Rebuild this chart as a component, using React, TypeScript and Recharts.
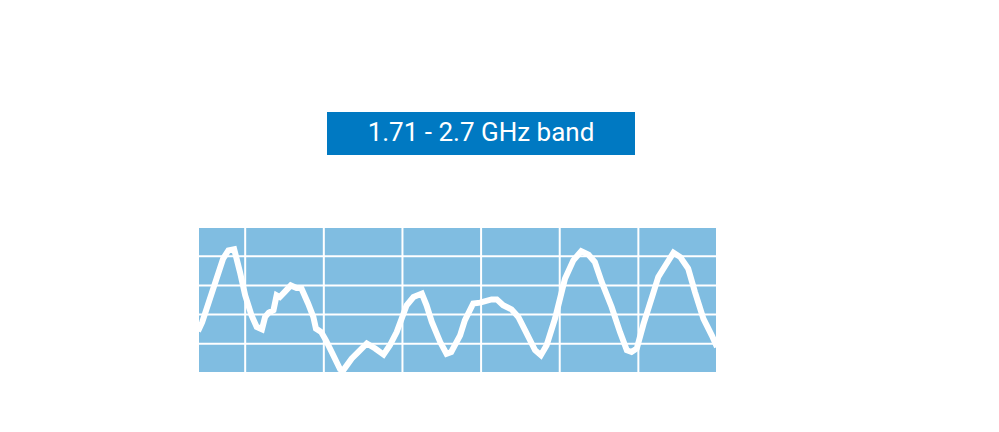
import { LineChart, Line, XAxis, YAxis, CartesianGrid } from 'recharts';

const TITLE = '1.71 - 2.7 GHz band';

// frequency in GHz
const freqs = [
  1.71, 1.718, 1.758, 1.768, 1.779, 1.79, 1.8, 1.812, 1.822, 1.832, 1.838, 1.845,
  1.854, 1.86, 1.866, 1.875, 1.887, 1.898, 1.907, 1.92, 1.93, 1.935, 1.945, 1.954,
  1.965, 1.981, 1.987, 2.003, 2.016, 2.032, 2.048, 2.064, 2.076, 2.089, 2.108, 2.121,
  2.137, 2.146, 2.156, 2.172, 2.184, 2.193, 2.21, 2.219, 2.235, 2.248, 2.27, 2.28,
  2.292, 2.308, 2.321, 2.334, 2.353, 2.364, 2.375, 2.391, 2.41, 2.426, 2.441, 2.455,
  2.467, 2.48, 2.499, 2.515, 2.528, 2.537, 2.547, 2.56, 2.576, 2.588, 2.604, 2.617,
  2.63, 2.645, 2.658, 2.674, 2.69, 2.7,
];

// signal level (arbitrary units)
const levels = [
  14.3, 17.4, 39.2, 42.0, 42.4, 34.6, 26.6, 19.8, 15.8, 15.0, 19.2, 20.7,
  21.5, 26.6, 26.0, 27.7, 30.0, 29.1, 29.1, 23.8, 19.2, 15.2, 14.0, 11.2,
  7.2, 1.3, 0.9, 4.9, 7.2, 10.1, 8.4, 6.3, 9.5, 14.0, 23.2, 26.0,
  27.2, 23.2, 17.5, 10.6, 6.6, 7.2, 12.9, 18.0, 23.8, 24.1, 25.2, 25.2,
  23.2, 21.8, 19.2, 14.6, 7.8, 6.1, 9.5, 18.6, 32.3, 38.6, 41.7, 40.5,
  38.0, 31.2, 22.6, 14.0, 7.8, 7.2, 8.4, 16.9, 26.0, 32.9, 37.5, 41.2,
  39.7, 35.8, 27.7, 18.6, 12.9, 8.9,
];

const xTicks = [1.8, 1.95, 2.1, 2.25, 2.4, 2.55];
const yTicks = [10, 20, 30, 40];

const data = freqs.map((f, i) => ({ f, v: levels[i] }));

export default function App() {
  return (
    <div style={{ position: 'absolute', left: 0, top: 0, width: 999, height: 432, background: '#fff' }}>
      <div
        style={{
          position: 'absolute',
          left: 327,
          top: 112,
          width: 308,
          height: 43,
          background: '#0079c2',
          color: '#fff',
          fontFamily: 'Roboto, sans-serif',
          fontSize: 26,
          lineHeight: '41px',
          textAlign: 'center',
        }}
      >
        {TITLE}
      </div>
      <LineChart
        width={999}
        height={432}
        data={data}
        margin={{ top: 227, right: 282, bottom: 59, left: 198 }}
      >
        <CartesianGrid fill="#80bde1" fillOpacity={1} stroke="#ffffff" strokeWidth={2} />
        <XAxis dataKey="f" type="number" domain={[1.71, 2.7]} ticks={xTicks} hide />
        <YAxis type="number" domain={[0, 50]} ticks={yTicks} hide />
        <Line
          dataKey="v"
          type="linear"
          stroke="#ffffff"
          strokeWidth={6}
          dot={false}
          isAnimationActive={false}
        />
      </LineChart>
    </div>
  );
}
